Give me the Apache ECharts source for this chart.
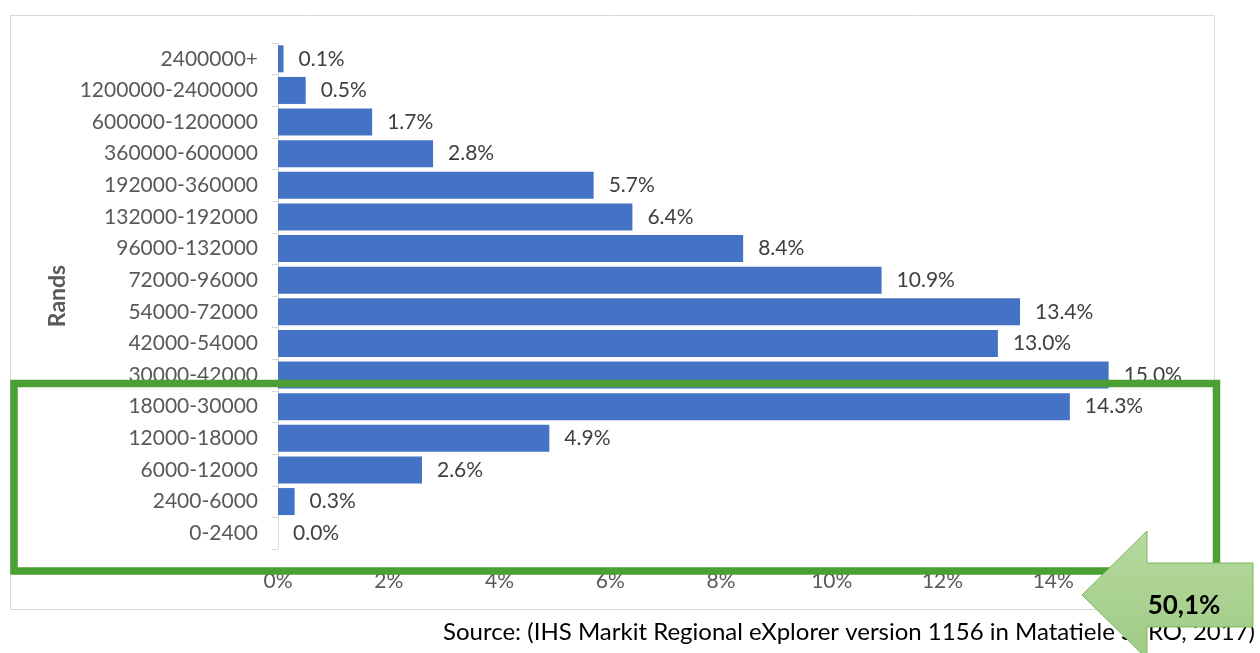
<!DOCTYPE html>
<html>
<head>
<meta charset="utf-8">
<script src="https://cdn.jsdelivr.net/npm/echarts@6/dist/echarts.min.js"></script>
<style>
  html, body { margin: 0; padding: 0; background: #ffffff; }
  #chart { width: 1260px; height: 653px; }
</style>
</head>
<body>
<div id="chart"></div>
<script>
// Household income bands (bottom to top) and share of households, %
const categories = [
  '0-2400', '2400-6000', '6000-12000', '12000-18000', '18000-30000',
  '30000-42000', '42000-54000', '54000-72000', '72000-96000', '96000-132000',
  '132000-192000', '192000-360000', '360000-600000', '600000-1200000',
  '1200000-2400000', '2400000+'
];
const shares = [0.0, 0.3, 2.6, 4.9, 14.3, 15.0, 13.0, 13.4, 10.9, 8.4, 6.4, 5.7, 2.8, 1.7, 0.5, 0.1];

// Value axis ticks
const axisMin = 0;
const axisMax = 16;
const axisStep = 2;

const yAxisName = 'Rands';
const calloutText = '50,1%';
const sourceText = 'Source: (IHS Markit Regional eXplorer version 1156 in Matatiele SERO, 2017)';

const FONT = 'Lato, "Open Sans", sans-serif';

const chart = echarts.init(document.getElementById('chart'), null, { renderer: 'canvas' });

chart.setOption({
  backgroundColor: '#ffffff',
  animation: false,
  grid: { left: 278, right: 96, top: 43, bottom: 104, containLabel: false },
  xAxis: {
    type: 'value',
    min: axisMin,
    max: axisMax,
    interval: axisStep,
    axisLine: { show: false },
    axisTick: { show: false },
    splitLine: { show: false },
    axisLabel: {
      margin: 22,
      color: '#595959',
      fontFamily: FONT,
      fontSize: 21,
      formatter: v => v + '%'
    }
  },
  yAxis: {
    type: 'category',
    data: categories,
    name: yAxisName,
    nameLocation: 'middle',
    nameGap: 206,
    nameRotate: 90,
    nameTextStyle: { color: '#595959', fontFamily: FONT, fontSize: 23, fontWeight: 'bold' },
    axisLine: { show: true, lineStyle: { color: '#d9d9d9', width: 1 } },
    axisTick: { show: true, length: 6, lineStyle: { color: '#d9d9d9' } },
    axisLabel: { margin: 20, color: '#595959', fontFamily: FONT, fontSize: 21 }
  },
  series: [{
    type: 'bar',
    data: shares,
    barWidth: 27,
    itemStyle: { color: '#4472C4' },
    label: {
      show: true,
      position: 'right',
      distance: 15,
      color: '#404040',
      fontFamily: FONT,
      fontSize: 21,
      formatter: p => p.value.toFixed(1) + '%'
    }
  }],
  graphic: [
    // chart area frame
    {
      type: 'rect', z: 0, silent: true,
      shape: { x: 10.5, y: 15.5, width: 1204, height: 594 },
      style: { fill: 'none', stroke: '#d9d9d9', lineWidth: 1 }
    },
    // source note
    {
      type: 'text', z: 50, silent: true,
      style: {
        x: 1255, y: 632, text: sourceText, align: 'right', verticalAlign: 'middle',
        fill: '#000000', font: '24px ' + FONT
      }
    },
    // highlight box around the lower income bands
    {
      type: 'rect', z: 60, silent: true,
      shape: { x: 14, y: 383.5, width: 1202.5, height: 187.5 },
      style: { fill: 'none', stroke: '#4B9F33', lineWidth: 7.5 }
    },
    // left-pointing callout arrow
    {
      type: 'polygon', z: 70, silent: true,
      shape: {
        points: [
          [1082, 595], [1147, 531], [1147, 563], [1253, 563],
          [1253, 627], [1147, 627], [1147, 659]
        ]
      },
      style: {
        fill: new echarts.graphic.LinearGradient(0, 0, 0, 1, [
          { offset: 0, color: '#b6d9a0' },
          { offset: 1, color: '#9fcb84' }
        ]),
        stroke: '#7fb95c',
        lineWidth: 1
      }
    },
    {
      type: 'text', z: 80, silent: true,
      style: {
        x: 1184, y: 606, text: calloutText, align: 'center', verticalAlign: 'middle',
        fill: '#000000', font: 'bold 26px ' + FONT
      }
    }
  ]
});
</script>
</body>
</html>
